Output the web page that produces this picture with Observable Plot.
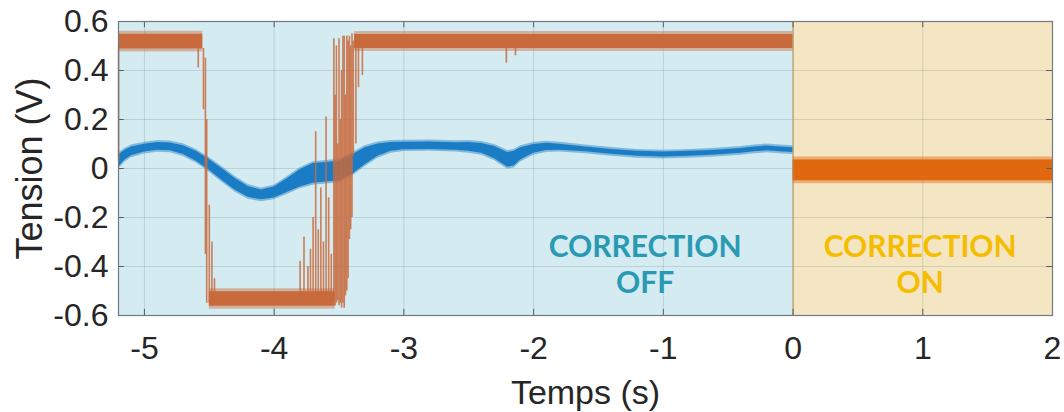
<!DOCTYPE html>
<html>
<head>
<meta charset="utf-8">
<script src="https://cdn.jsdelivr.net/npm/d3@7"></script>
<script src="https://cdn.jsdelivr.net/npm/@observablehq/plot@0.6"></script>
<style>
  html, body { margin: 0; padding: 0; background: #ffffff; }
</style>
</head>
<body>
<div id="chart"></div>
<script>
// ---------- data ----------
const xTicks = [-5, -4, -3, -2, -1, 0, 1, 2];
const xTickLabels = ["-5", "-4", "-3", "-2", "-1", "0", "1", "2"];
const yTicks = [-0.6, -0.4, -0.2, 0, 0.2, 0.4, 0.6];
const yTickLabels = ["-0.6", "-0.4", "-0.2", "0", "0.2", "0.4", "0.6"];

const regionName = ["off", "on"];
const regionStart = [-5.2, 0];
const regionEnd = [0, 2];

// blue signal (correction off): time, centre, half noise width
const blueT =    [-5.2, -5.15, -5.1, -5.0, -4.9, -4.8, -4.7, -4.6, -4.5, -4.4, -4.3, -4.2, -4.1, -4.0, -3.9, -3.8, -3.7, -3.6, -3.5, -3.4, -3.3, -3.2, -3.1, -3.0, -2.8, -2.6, -2.5, -2.4, -2.3, -2.2, -2.15, -2.1, -2.0, -1.9, -1.8, -1.6, -1.4, -1.2, -1.0, -0.8, -0.6, -0.4, -0.3, -0.2, -0.1, 0];
const blueMid =  [0.03, 0.055, 0.07, 0.083, 0.09, 0.088, 0.075, 0.05, 0.015, -0.025, -0.065, -0.095, -0.108, -0.098, -0.07, -0.04, -0.02, -0.015, -0.01, 0.015, 0.05, 0.075, 0.088, 0.092, 0.093, 0.09, 0.088, 0.082, 0.065, 0.035, 0.04, 0.06, 0.08, 0.088, 0.087, 0.078, 0.068, 0.06, 0.057, 0.06, 0.065, 0.072, 0.078, 0.082, 0.078, 0.075];
const blueHalf = [0.025, 0.02, 0.018, 0.016, 0.016, 0.016, 0.018, 0.02, 0.022, 0.024, 0.024, 0.022, 0.02, 0.022, 0.028, 0.035, 0.04, 0.04, 0.04, 0.04, 0.035, 0.025, 0.018, 0.015, 0.015, 0.015, 0.018, 0.02, 0.025, 0.03, 0.03, 0.025, 0.018, 0.015, 0.012, 0.01, 0.01, 0.01, 0.01, 0.01, 0.01, 0.01, 0.01, 0.01, 0.01, 0.01];

// orange signal: saturated noisy plateaus (start, end, low, high)
const orangeBandStart = [-5.2, -4.5, -3.38, 0];
const orangeBandEnd   = [-4.55, -3.53, 0, 2];
const orangeBandLow   = [0.488, -0.562, 0.49, -0.05];
const orangeBandHigh  = [0.548, -0.503, 0.547, 0.035];
const orangeBandPhase = ["off", "off", "off", "on"];

// orange switching transients (time, from, to)
const spikeT =    [-5.199, -4.585, -4.545, -4.53, -4.52, -4.50, -4.48, -4.46, -3.80, -3.77, -3.74, -3.72, -3.70, -3.68, -3.66, -3.64, -3.62, -3.60, -3.58, -3.56, -3.54, -3.53, -3.52, -3.51, -3.50, -3.49, -3.48, -3.47, -3.46, -3.45, -3.44, -3.43, -3.42, -3.41, -3.40, -3.39, -3.37, -3.35, -3.32, -2.21, -2.14];
const spikeFrom = [0.03, 0.49, 0.49, 0.45, 0.20, -0.55, -0.55, -0.55, -0.55, -0.55, -0.55, -0.55, -0.55, -0.55, -0.55, -0.55, -0.55, -0.55, -0.55, -0.55, -0.55, -0.56, -0.55, -0.54, -0.56, -0.55, -0.57, -0.55, -0.57, -0.52, -0.50, -0.45, -0.29, -0.25, -0.20, 0.05, 0.10, 0.33, 0.38, 0.49, 0.49];
const spikeTo =   [0.50, 0.41, 0.24, -0.35, -0.55, -0.15, -0.30, -0.45, -0.38, -0.28, -0.40, -0.33, -0.20, 0.15, -0.25, -0.08, -0.30, 0.21, -0.12, -0.35, 0.53, 0.30, 0.50, 0.10, 0.53, 0.20, 0.40, 0.54, 0.54, 0.30, 0.54, 0.52, 0.54, 0.50, 0.55, 0.52, 0.52, 0.50, 0.49, 0.43, 0.46];

const annotText = ["CORRECTION\nOFF", "CORRECTION\nON"];
const annotX = [-1.14, 0.98];
const annotY = [-0.388, -0.388];
const annotPhase = ["off", "on"];

// ---------- tables ----------
const regions = regionName.map((r, i) => ({r, x1: regionStart[i], x2: regionEnd[i]}));
const blue = blueT.map((t, i) => ({t, lo: blueMid[i] - blueHalf[i], hi: blueMid[i] + blueHalf[i]}));
const bands = orangeBandStart.map((s, i) => ({x1: s, x2: orangeBandEnd[i], lo: orangeBandLow[i], hi: orangeBandHigh[i], p: orangeBandPhase[i]}));
const spikes = spikeT.map((t, i) => ({t, y1: spikeFrom[i], y2: spikeTo[i]}));
const annots = annotText.map((s, i) => ({s, x: annotX[i], y: annotY[i], p: annotPhase[i]}));

const bgColor = {off: "#d4ebf1", on: "#f4e6c3"};
const orangeColor = {off: "#c96a3c", on: "#e0690f"};
const annotColor = {off: "#2a9ab4", on: "#f6bd00"};
const blueColor = "#1a7cc4";

const xDom = [-5.2, 2], yDom = [-0.6, 0.6];
const xTickLen = 0.045, yTickLen = 0.025;

const chart = Plot.plot({
  width: 1064,
  height: 412,
  marginLeft: 118,
  marginRight: 12,
  marginTop: 21,
  marginBottom: 97,
  style: {fontFamily: "'Liberation Sans', Arial, sans-serif", fontSize: "32px", color: "#262626", background: "#ffffff"},
  x: {domain: xDom, ticks: xTicks, tickSize: 0, tickPadding: 21, tickFormat: d => xTickLabels[xTicks.indexOf(d)], label: null},
  y: {domain: yDom, ticks: yTicks, tickSize: 0, tickPadding: 10, tickFormat: d => yTickLabels[yTicks.indexOf(d)], label: null},
  marks: [
    Plot.rect(regions, {x1: "x1", x2: "x2", y1: yDom[0], y2: yDom[1], fill: d => bgColor[d.r]}),
    Plot.gridX(xTicks, {stroke: "#5f7780", strokeOpacity: 0.22}),
    Plot.gridY(yTicks, {stroke: "#5f7780", strokeOpacity: 0.22}),
    // blue trace
    Plot.areaY(blue, {x: "t", y1: d => d.lo - 0.008, y2: d => d.hi + 0.008, fill: blueColor, fillOpacity: 0.45}),
    Plot.areaY(blue, {x: "t", y1: "lo", y2: "hi", fill: blueColor}),
    // orange plateaus
    Plot.rect(bands, {x1: "x1", x2: "x2", y1: d => d.lo - 0.012, y2: d => d.hi + 0.012, fill: d => orangeColor[d.p], fillOpacity: 0.45}),
    Plot.rect(bands, {x1: "x1", x2: "x2", y1: "lo", y2: "hi", fill: d => orangeColor[d.p]}),
    // orange transients
    Plot.ruleX(spikes, {x: "t", y1: "y1", y2: "y2", stroke: orangeColor.off, strokeWidth: 1.6, strokeOpacity: 0.85}),
    // boundary line
    Plot.ruleX([0], {y1: yDom[0], y2: yDom[1], stroke: "#b08a5a", strokeWidth: 1}),
    // inward ticks
    Plot.ruleX(xTicks, {y1: yDom[0], y2: yDom[0] + yTickLen, stroke: "#555f63", strokeWidth: 1}),
    Plot.ruleX(xTicks, {y1: yDom[1], y2: yDom[1] - yTickLen, stroke: "#555f63", strokeWidth: 1}),
    Plot.ruleY(yTicks, {x1: xDom[0], x2: xDom[0] + xTickLen, stroke: "#555f63", strokeWidth: 1}),
    Plot.ruleY(yTicks, {x1: xDom[1], x2: xDom[1] - xTickLen, stroke: "#555f63", strokeWidth: 1}),
    Plot.frame({stroke: "#6f7b80", strokeWidth: 1.2}),
    // annotations
    Plot.text(annots, {x: "x", y: "y", text: "s", fill: d => annotColor[d.p], fontSize: 30, fontWeight: "bold", fontFamily: "Lato, 'Open Sans', sans-serif", lineHeight: 1.2, textAnchor: "middle", lineAnchor: "middle"}),
    // axis titles
    Plot.text(["Temps (s)"], {frameAnchor: "bottom", dy: 78, fontSize: 34, fill: "#262626", textAnchor: "middle", lineAnchor: "middle"}),
    Plot.text(["Tension (V)"], {frameAnchor: "left", dx: -88, rotate: -90, fontSize: 36, fill: "#262626", textAnchor: "middle", lineAnchor: "middle"})
  ]
});
document.getElementById("chart").appendChild(chart);
</script>
</body>
</html>
